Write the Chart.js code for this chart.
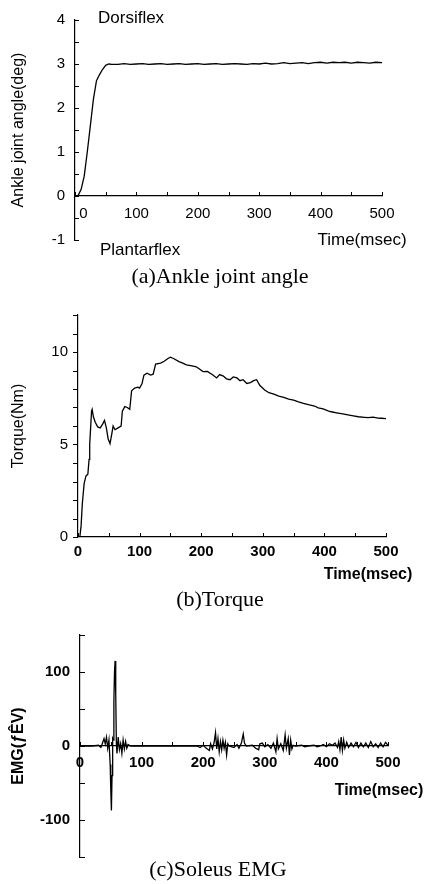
<!DOCTYPE html>
<html>
<head>
<meta charset="utf-8">
<script src="https://cdn.jsdelivr.net/npm/chart.js@4.4.1/dist/chart.umd.min.js"></script>
<style>
body{margin:0;background:#fff;width:427px;height:884px;overflow:hidden;position:relative}
canvas{position:absolute;left:0}
</style>
</head>
<body>
<canvas id="angulo" width="427" height="290" style="top:0px"></canvas>
<canvas id="torque" width="427" height="325" style="top:290px"></canvas>
<canvas id="emg" width="427" height="269" style="top:615px"></canvas>
<script>
// tick labels
const xLabels = [0, 100, 200, 300, 400, 500]
const anguloLabels = [-1, 0, 1, 2, 3, 4]
const torqueLabels = [0, 5, 10]
const emgLabels = [-100, 0, 100]

// (a) angulo del tobillo
const anguloT = [0, 5, 10, 15, 20, 25, 30, 35, 40, 45, 50, 55, 60,
  70, 80, 90, 100, 110, 120, 130, 140, 150, 160, 170, 180, 190, 200,
  210, 220, 230, 240, 250, 260, 270, 280, 290, 300, 310, 320, 330, 340,
  350, 360, 370, 380, 390, 400, 410, 420, 430, 440, 450, 460, 470, 480, 490, 500]
const anguloV = [0, 0.01, 0.15, 0.45, 1.0, 1.6, 2.2, 2.62, 2.76, 2.88, 2.97, 3.0, 2.99,
  2.99, 3.01, 2.99, 3.0, 3.01, 2.99, 3.0, 3.01, 2.99, 3.0, 3.01, 2.99, 3.0, 3.01,
  2.99, 3.0, 3.01, 2.99, 3.0, 3.01, 3.0, 2.99, 3.01, 3.0, 3.02, 3.0, 3.01, 3.03,
  3.01, 3.02, 3.03, 3.01, 3.03, 3.04, 3.02, 3.04, 3.03, 3.04, 3.02, 3.04, 3.03, 3.02, 3.04, 3.03]

// (b) torque
const torqueT = [3, 5, 7, 10, 13, 16, 18, 19, 20, 22, 23, 25, 28, 32, 36, 40, 43, 46, 49, 52,
  55, 57, 60, 65, 70, 72, 76, 80, 84, 87, 92, 97, 100, 104, 107, 112, 118, 122, 126, 134,
  140, 146, 150, 155, 164, 170, 176, 185, 192, 203, 210, 219, 225, 230, 236, 241, 247, 252,
  258, 263, 268, 274, 280, 285, 290, 295, 303, 310, 318, 326, 334, 342, 350, 358, 366, 374,
  384, 390, 398, 406, 411, 422, 430, 438, 447, 455, 465, 471, 479, 487, 493, 500]
const torqueV = [0, 0.6, 1.8, 2.9, 3.3, 3.4, 4.2, 5.0, 5.6, 6.8, 6.9, 6.5, 6.2, 5.95, 5.9, 6.1, 6.3, 5.9, 5.3, 5.05,
  5.6, 6.0, 5.8, 5.9, 6.0, 6.8, 7.05, 7.0, 6.9, 7.9, 8.05, 8.1, 8.05, 8.3, 8.75, 8.85, 8.75, 8.8, 9.35, 9.4,
  9.5, 9.65, 9.72, 9.65, 9.48, 9.4, 9.3, 9.25, 9.2, 8.94, 8.95, 8.76, 8.6, 8.78, 8.7, 8.55, 8.5, 8.65,
  8.6, 8.45, 8.5, 8.3, 8.35, 8.45, 8.5, 8.2, 7.95, 7.8, 7.72, 7.62, 7.55, 7.45, 7.4, 7.3, 7.22, 7.15,
  7.08, 6.98, 6.92, 6.82, 6.77, 6.7, 6.65, 6.6, 6.55, 6.5, 6.47, 6.45, 6.48, 6.43, 6.42, 6.4]

// (c) EMG soleo
const emgT = [0, 20, 30, 34, 37, 39, 41, 43, 45, 47, 49, 50, 51, 52, 53, 54, 55, 56, 57, 58,
  59, 60, 62, 64, 66, 68, 70, 72, 74, 76, 78, 82, 190, 195, 200, 205, 210, 212, 215, 218,
  220, 222, 224, 226, 228, 230, 232, 234, 236, 238, 240, 242, 250, 255, 258, 262, 265, 267, 270, 280,
  285, 290, 292, 296, 300, 305, 310, 314, 318, 320, 322, 326, 330, 333, 335, 338, 340, 342, 344, 346,
  350, 360, 365, 370, 380, 385, 390, 395, 400, 405, 410, 414, 418, 420, 422, 424, 426, 428, 430, 433,
  436, 440, 444, 448, 452, 456, 460, 464, 468, 472, 476, 480, 484, 488, 492, 496, 500]
const emgV = [0, 0, 1, -2, 5, 10, 3, 12, -3, 8, -25, -60, -87, -40, 10, 8, 60, 100, 115, 70,
  5, -10, 12, -5, 3, -10, 8, -4, 6, -3, 2, 0, 0, -2, 1, -3, -6, 3, -4, 6,
  18, -4, 10, -8, 6, -5, 8, -3, 5, -12, 3, 0, -2, 2, -3, 4, 16, 4, 0, 1,
  -3, -5, 3, 4, -1, 2, -3, 4, -8, 10, -4, 3, -6, 15, -3, 10, -12, 8, -4, 1,
  0, 1, -1, 0, 1, -1, 0, 2, -1, 3, 1, 4, -2, 6, -5, 12, -6, 8, -3, 5,
  -2, 4, -1, 5, -2, 4, -1, 4, -2, 6, -1, 3, -2, 4, -1, 5, 1]

const esLabel = (lista, corrido) => (v) => {
  if (!lista.some(l => Math.abs(l - v) < 1e-6)) return ''
  // el 0 del panel (a) va corrido a la derecha del eje
  return (corrido && v === 0) ? '\u2007\u20070' : v
}

// marcas de los ejes (largoY negativo = hacia afuera)
const marcas = {
  id: 'marcas',
  afterDraw(chart, args, opts) {
    const ctx = chart.ctx
    const { x, y } = chart.scales
    const x0 = chart.chartArea.left
    const y0 = y.getPixelForValue(opts.ejeX)
    ctx.save()
    ctx.strokeStyle = '#000'
    ctx.lineWidth = 1
    for (let v = y.min; v <= y.max + 1e-9; v += opts.pasoY) {
      const p = Math.round(y.getPixelForValue(v)) + 0.5
      ctx.beginPath(); ctx.moveTo(x0, p); ctx.lineTo(x0 + opts.largoY, p); ctx.stroke()
    }
    for (let v = x.min; v <= x.max + 1e-9; v += opts.pasoX) {
      const p = Math.round(x.getPixelForValue(v)) + 0.5
      ctx.beginPath(); ctx.moveTo(p, y0); ctx.lineTo(p, y0 - opts.largoX); ctx.stroke()
    }
    ctx.restore()
  }
}

const textos = {
  id: 'textos',
  afterDraw(chart, args, opts) {
    const ctx = chart.ctx
    ctx.save()
    ctx.fillStyle = '#000'
    ctx.textBaseline = 'middle';
    (opts.items || []).forEach(t => {
      ctx.font = t.font
      ctx.textAlign = t.align || 'center'
      ctx.fillText(t.text, t.x, t.y)
    })
    ctx.restore()
  }
}

const sans = '17px "Liberation Sans"'
const sansBold = 'bold 16px "Liberation Sans"'
const serif = '22px "Liberation Serif"'

const drawChart = (id, datosT, datosV, cfg) => {
  return new Chart(document.getElementById(id), {
    type: 'line',
    data: {
      datasets: [{
        data: datosT.map((t, i) => ({ x: t, y: datosV[i] })),
        borderColor: '#000',
        borderWidth: 1.3,
        pointRadius: 0,
        tension: 0
      }]
    },
    options: {
      responsive: false,
      animation: false,
      layout: { padding: cfg.padding },
      plugins: {
        legend: { display: false },
        tooltip: { enabled: false },
        marcas: cfg.marcas,
        textos: { items: cfg.textos }
      },
      scales: {
        x: {
          type: 'linear', min: 0, max: 500,
          position: { y: cfg.ejeX },
          grid: { drawOnChartArea: false, drawTicks: false },
          border: { color: '#000', width: 1.2 },
          ticks: {
            stepSize: 100, autoSkip: false, maxRotation: 0, padding: cfg.padX,
            color: '#000', font: { family: 'Liberation Sans', size: 15, weight: cfg.pesoX },
            callback: esLabel(xLabels, cfg.ceroCorrido)
          }
        },
        y: {
          min: cfg.min, max: cfg.max,
          grid: { drawOnChartArea: false, drawTicks: false },
          border: { color: '#000', width: 1.2 },
          ticks: {
            stepSize: cfg.paso, autoSkip: false, padding: 10,
            color: '#000', font: { family: 'Liberation Sans', size: 15, weight: cfg.pesoY },
            callback: esLabel(cfg.labels, false)
          },
          title: {
            display: true, text: cfg.titulo, color: '#000',
            font: { family: 'Liberation Sans', size: 16, weight: cfg.pesoY },
            padding: { top: 9, bottom: 0 }
          },
          afterFit: (s) => { s.width = cfg.ancho }
        }
      }
    },
    plugins: [marcas, textos]
  })
}

drawChart('angulo', anguloT, anguloV, {
  padding: { left: 0, right: 45, top: 20, bottom: 50 },
  ancho: 75, min: -1, max: 4, paso: 1, labels: anguloLabels, ejeX: 0, padX: 9,
  pesoX: 'normal', pesoY: 'normal', ceroCorrido: true,
  titulo: 'Ankle joint angle(deg)',
  marcas: { ejeX: 0, pasoY: 0.5, pasoX: 50, largoY: 4, largoX: 4 },
  textos: [
    { text: 'Dorsiflex', x: 98, y: 18, font: sans, align: 'left' },
    { text: 'Plantarflex', x: 100, y: 250, font: sans, align: 'left' },
    { text: 'Time(msec)', x: 362, y: 240, font: sans },
    { text: '(a)Ankle joint angle', x: 220, y: 277, font: serif }
  ]
})

drawChart('torque', torqueT, torqueV, {
  padding: { left: 0, right: 41, top: 25, bottom: 78 },
  ancho: 78, min: 0, max: 12, paso: 5, labels: torqueLabels, ejeX: 0, padX: 6,
  pesoX: 'bold', pesoY: 'normal', ceroCorrido: false,
  titulo: 'Torque(Nm)',
  marcas: { ejeX: 0, pasoY: 1, pasoX: 50, largoY: -5, largoX: 4 },
  textos: [
    { text: 'Time(msec)', x: 368, y: 285, font: sansBold },
    { text: '(b)Torque', x: 220, y: 310, font: serif }
  ]
})

drawChart('emg', emgT, emgV, {
  padding: { left: 0, right: 39, top: 20, bottom: 27 },
  ancho: 80, min: -150, max: 150, paso: 50, labels: emgLabels, ejeX: 0, padX: 8,
  pesoX: 'bold', pesoY: 'bold', ceroCorrido: false,
  titulo: 'EMG(ƒÊV)',
  marcas: { ejeX: 0, pasoY: 50, pasoX: 50, largoY: 5, largoX: 4 },
  textos: [
    { text: 'Time(msec)', x: 379, y: 176, font: sansBold },
    { text: '(c)Soleus EMG', x: 218, y: 255, font: serif }
  ]
})
</script>
</body>
</html>
